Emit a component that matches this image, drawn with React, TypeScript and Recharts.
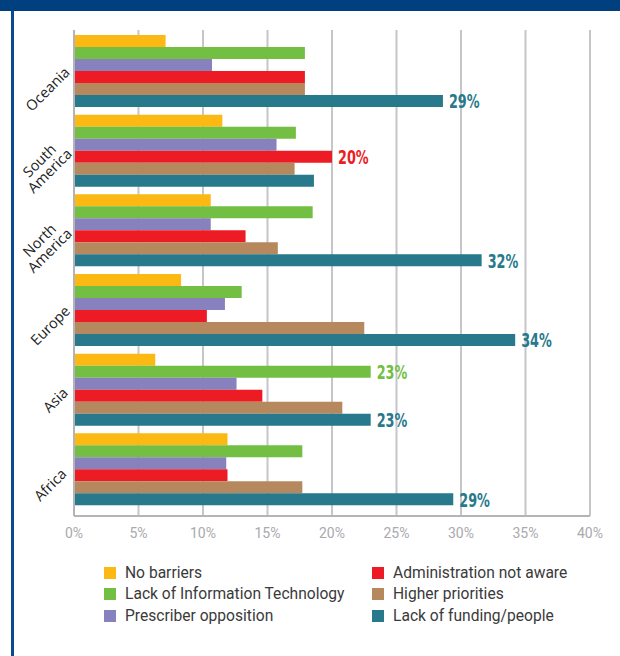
import React from 'react';
import { BarChart, Bar, XAxis, YAxis, CartesianGrid, LabelList } from 'recharts';

const regions = ['Oceania', 'South America', 'North America', 'Europe', 'Asia', 'Africa'];

const noBarriers = [7.1, 11.5, 10.6, 8.3, 6.3, 11.9];
const lackIT = [17.9, 17.2, 18.5, 13.0, 23.0, 17.7];
const prescriber = [10.7, 15.7, 10.6, 11.7, 12.6, 11.8];
const adminNotAware = [17.9, 20.0, 13.3, 10.3, 14.6, 11.9];
const higherPriorities = [17.9, 17.1, 15.8, 22.5, 20.8, 17.7];
const lackFunding = [28.6, 18.6, 31.6, 34.2, 23.0, 29.4];

const xTicks = [0, 5, 10, 15, 20, 25, 30, 35, 40];

const series = [
  { key: 'noBarriers', name: 'No barriers', color: '#FDB913', values: noBarriers, labelled: [] as string[] },
  { key: 'lackIT', name: 'Lack of Information Technology', color: '#72BF44', values: lackIT, labelled: ['Asia'] },
  { key: 'prescriber', name: 'Prescriber opposition', color: '#8781BD', values: prescriber, labelled: [] as string[] },
  { key: 'admin', name: 'Administration not aware', color: '#ED1C24', values: adminNotAware, labelled: ['South America'] },
  { key: 'higher', name: 'Higher priorities', color: '#B6885E', values: higherPriorities, labelled: [] as string[] },
  { key: 'funding', name: 'Lack of funding/people', color: '#27798B', values: lackFunding, labelled: ['Oceania', 'North America', 'Europe', 'Asia', 'Africa'] },
];

const data = regions.map((region, i) => {
  const row: any = { region };
  series.forEach(s => { row[s.key] = s.values[i]; });
  return row;
});

const RegionTick = ({ y, payload }: any) => {
  const lines = String(payload.value).split(' ');
  const longest = Math.max(...lines.map(l => l.length));
  const half = longest * 3.7;
  return (
    <g transform={`translate(66,${y + 1}) rotate(-45)`}>
      <text textAnchor="middle" fill="#222" fontSize={14.5} fontWeight={500} fontFamily="'Open Sans', sans-serif">
        {lines.map((l, i) => (
          <tspan key={i} x={-half} dy={i === 0 ? (lines.length > 1 ? '-0.45em' : '0.35em') : '1.0em'}>{l}</tspan>
        ))}
      </text>
    </g>
  );
};

const makeLabel = (color: string, labelled: string[]) => (props: any) => {
  const { x, y, width, height, value, index } = props;
  if (!labelled.includes(regions[index])) return null;
  return (
    <g transform={`translate(${x + width + 6},${y + height / 2}) scale(0.64,1)`}>
      <text
        x={0}
        y={0}
        dy="0.36em"
        fill={color}
        fontSize={20}
        fontWeight="bold"
        fontFamily="'DejaVu Sans', sans-serif"
      >
        {Math.round(value)}%
      </text>
    </g>
  );
};

const App: React.FC = () => {
  return (
    <div style={{ position: 'absolute', left: 0, top: 0, width: 620, height: 656, background: '#fff', overflow: 'hidden' }}>
      <div style={{ position: 'absolute', left: 0, top: 0, width: 620, height: 11, background: '#00407F' }} />
      <div style={{ position: 'absolute', left: 11, top: 11, width: 3, height: 645, background: '#0B4A8F' }} />
      <div style={{ position: 'absolute', left: 0, top: 0 }}>
        <BarChart
          width={620}
          height={560}
          data={data}
          layout="vertical"
          margin={{ top: 30, right: 30, left: 0, bottom: 14 }}
          barCategoryGap={5}
          barGap={0}
        >
          <CartesianGrid horizontal={false} stroke="#C6C6CA" strokeWidth={2} />
          <XAxis
            type="number"
            domain={[0, 40]}
            ticks={xTicks}
            tickFormatter={(v: number) => `${v}%`}
            axisLine={{ stroke: '#B4B4B8', strokeWidth: 2 }}
            tickLine={false}
            tickMargin={6}
            height={30}
            tick={{ fill: '#A9A9AE', fontSize: 14, fontFamily: "'Roboto', sans-serif" }}
          />
          <YAxis
            type="category"
            dataKey="region"
            width={74}
            axisLine={{ stroke: '#B4B4B8', strokeWidth: 2 }}
            tickLine={false}
            padding={{ top: 0, bottom: 8 }}
            tick={<RegionTick />}
            interval={0}
          />
          {series.map(s => (
            <Bar key={s.key} dataKey={s.key} name={s.name} fill={s.color} isAnimationActive={false}>
              <LabelList dataKey={s.key} content={makeLabel(s.color, s.labelled)} />
            </Bar>
          ))}
        </BarChart>
      </div>
      <div style={{ position: 'absolute', left: 104, top: 562, width: 500, fontFamily: "'Roboto', sans-serif", fontSize: 15.6, color: '#3A3A3A' }}>
        {[0, 1, 2].map(r => (
          <div key={r} style={{ display: 'flex', height: 21.5, alignItems: 'center' }}>
            {[series[r], series[r + 3]].map((s, c) => (
              <div key={s.key} style={{ display: 'flex', alignItems: 'center', width: c === 0 ? 268 : 232 }}>
                <span style={{ display: 'inline-block', width: 12, height: 12, background: s.color, marginRight: 9 }} />
                <span>{s.name}</span>
              </div>
            ))}
          </div>
        ))}
      </div>
    </div>
  );
};

export default App;
